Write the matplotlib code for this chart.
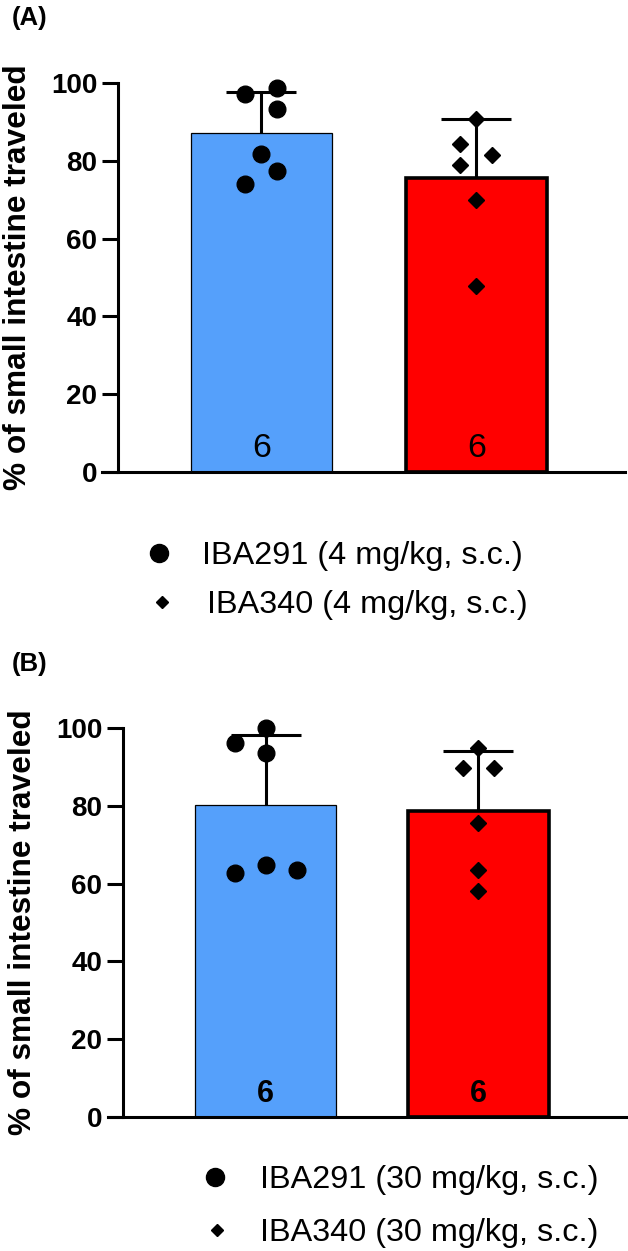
import numpy as np
import matplotlib
matplotlib.use("Agg")
import matplotlib.pyplot as plt
from matplotlib.lines import Line2D
import matplotlib.transforms as mtransforms

plt.rcParams['font.family'] = ['Liberation Sans', 'DejaVu Sans']

# ---------------- data ----------------
groups = ["IBA291", "IBA340"]
n_labels = ["6", "6"]
yticks = [0, 20, 40, 60, 80, 100]
ylabel = "% of small intestine traveled"

# Panel A (4 mg/kg, s.c.)
a_iba291 = [97.2, 98.7, 93.5, 81.9, 77.3, 74.1]
a_iba340 = [90.8, 84.5, 81.6, 79.0, 70.0, 47.8]
a_legend = ["IBA291 (4 mg/kg, s.c.)", "IBA340 (4 mg/kg, s.c.)"]

# Panel B (30 mg/kg, s.c.)
b_iba291 = [100.0, 96.2, 93.7, 62.7, 64.9, 63.6]
b_iba340 = [95.0, 89.9, 89.9, 75.7, 63.6, 58.0]
b_legend = ["IBA291 (30 mg/kg, s.c.)", "IBA340 (30 mg/kg, s.c.)"]

# scatter column (jitter) slots for each point: -1 left, 0 centre, +1 right
a_iba291_slot = [-1, 1, 1, 0, 1, -1]
a_iba340_slot = [0, -1, 1, -1, 0, 0]
b_iba291_slot = [0, -1, 0, -1, 0, 1]
b_iba340_slot = [0, -1, 1, 0, 0, 0]

# ---------------- style ----------------
W, H = 628, 1251
BLUE = "#55A0FB"
RED = "#FF0000"
LW = 2.2

fig = plt.figure(figsize=(W / 100, H / 100), dpi=100)


def fx(px):
    return px / W


def fy(py):
    return 1 - py / H


def panel(rect_px, spine_px, centers_px, vals, slots, jit, bold_n, n_size, n_off_px):
    left, right, y0, y100 = rect_px
    ax = fig.add_axes([fx(left), fy(y0), fx(right) - fx(left), (y0 - y100) / H])
    spacing = centers_px[1] - centers_px[0]
    x0 = (left - centers_px[0]) / spacing
    x1 = (right - centers_px[0]) / spacing
    ax.set_xlim(x0, x1)
    ax.set_ylim(0, 100)
    xs = np.arange(len(groups))
    means = [np.mean(v) for v in vals]
    sds = [np.std(v, ddof=1) for v in vals]
    colors = [BLUE, RED]
    edgew = [0.9, 2.6]
    bw = 141 / spacing
    for i in range(len(groups)):
        ax.bar(xs[i], means[i], width=bw, color=colors[i], edgecolor="black",
               linewidth=edgew[i], zorder=2)
        eb = ax.errorbar(xs[i], means[i], yerr=[[0], [sds[i]]], fmt="none",
                         ecolor="black", elinewidth=LW, capsize=25.5,
                         capthick=LW, zorder=3)
        for cl in eb[1]:
            if np.allclose(cl.get_ydata(), means[i]):
                cl.set_visible(False)
        px = xs[i] + np.array(slots[i]) * jit[i]
        if i == 0:
            ax.plot(px, vals[i], "o", color="black", markersize=12,
                    linestyle="none", zorder=4, clip_on=False)
        else:
            ax.plot(px, vals[i], "D", color="black", markersize=8.4,
                    linestyle="none", zorder=4, clip_on=False)
    off = mtransforms.ScaledTranslation(0, n_off_px / 100, fig.dpi_scale_trans)
    for i in range(len(groups)):
        ax.text(xs[i], 0, n_labels[i], ha="center", va="baseline",
                fontsize=n_size, fontweight="bold" if bold_n else "normal",
                transform=ax.transData + off, zorder=5)
    for s in ["top", "right"]:
        ax.spines[s].set_visible(False)
    ax.spines["left"].set_position(("data", (spine_px - centers_px[0]) / spacing))
    ax.spines["left"].set_bounds(0, 100)
    ax.spines["left"].set_linewidth(LW)
    ax.spines["bottom"].set_linewidth(LW)
    ax.set_xticks([])
    ax.set_yticks(yticks)
    ax.set_yticklabels([str(t) for t in yticks], fontsize=20, fontweight="bold")
    ax.tick_params(axis="y", length=11.3, width=LW, pad=3.5)
    ax.patch.set_alpha(0)
    return ax


axA = panel((102, 625, 471.7, 83.3), 118, (261.2, 476.3),
            [a_iba291, a_iba340], [a_iba291_slot, a_iba340_slot],
            [16 / 215.1, 16 / 215.1], False, 24.5, 14.7)
axB = panel((108, 627, 1116.7, 728.3), 122.7, (265.7, 478.3),
            [b_iba291, b_iba340], [b_iba291_slot, b_iba340_slot],
            [31 / 212.6, 15.5 / 212.6], True, 22, 14.2)

# y labels
fig.text(fx(18), fy(277.5), ylabel, rotation=90, ha="center", va="center",
         fontsize=22.8, fontweight="bold")
fig.text(fx(23), fy(922.5), ylabel, rotation=90, ha="center", va="center",
         fontsize=22.8, fontweight="bold")

# panel letters
fig.text(fx(12), fy(17.5), "(A)", ha="left", va="center", fontsize=18.5, fontweight="bold")
fig.text(fx(12), fy(664), "(B)", ha="left", va="center", fontsize=18.5, fontweight="bold")


# legends
def legend_row(mx, my, marker, ms, tx, ty, label):
    fig.add_artist(Line2D([fx(mx)], [fy(my)], marker=marker, markersize=ms,
                          color="black", linestyle="none", transform=fig.transFigure))
    fig.text(fx(tx), fy(ty + 11), label, ha="left", va="baseline", fontsize=23.3)


legend_row(159, 553, "o", 13, 202, 553, a_legend[0])
legend_row(162, 602, "D", 6.6, 207, 602, a_legend[1])
legend_row(215, 1177, "o", 13, 260, 1177, b_legend[0])
legend_row(217, 1230, "D", 6.6, 260, 1230, b_legend[1])

fig.savefig("out.png", dpi=100)
